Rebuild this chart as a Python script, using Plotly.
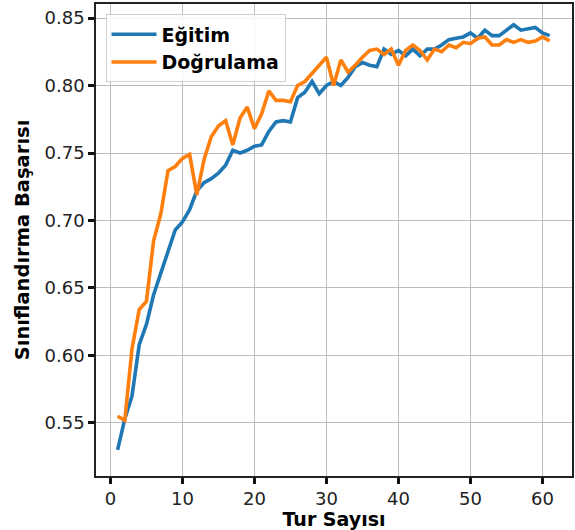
import plotly.graph_objects as go

epochs = list(range(1, 62))

egitim = [0.530, 0.553, 0.570, 0.608, 0.623, 0.645, 0.661, 0.678, 0.693, 0.699,
          0.708, 0.722, 0.728, 0.731, 0.735, 0.741, 0.752, 0.750, 0.752, 0.755,
          0.756, 0.766, 0.773, 0.774, 0.773, 0.791, 0.795, 0.803, 0.794, 0.800,
          0.803, 0.800, 0.806, 0.814, 0.817, 0.815, 0.814, 0.827, 0.823, 0.826,
          0.822, 0.827, 0.822, 0.827, 0.827, 0.830, 0.834, 0.835, 0.836, 0.839,
          0.835, 0.841, 0.837, 0.837, 0.841, 0.845, 0.841, 0.842, 0.843, 0.839,
          0.837]

dogrulama = [0.555, 0.552, 0.605, 0.634, 0.640, 0.685, 0.705, 0.737, 0.740, 0.746,
             0.749, 0.719, 0.745, 0.762, 0.770, 0.774, 0.756, 0.776, 0.784, 0.768,
             0.779, 0.796, 0.789, 0.789, 0.788, 0.800, 0.803, 0.809, 0.815, 0.821,
             0.800, 0.819, 0.810, 0.815, 0.821, 0.826, 0.827, 0.823, 0.827, 0.815,
             0.826, 0.830, 0.826, 0.819, 0.827, 0.825, 0.830, 0.828, 0.832, 0.831,
             0.835, 0.836, 0.830, 0.830, 0.834, 0.832, 0.834, 0.832, 0.833, 0.836,
             0.833]

x_ticks = [0, 10, 20, 30, 40, 50, 60]
y_ticks = [0.55, 0.60, 0.65, 0.70, 0.75, 0.80, 0.85]

font_family = "DejaVu Sans"

fig = go.Figure()
fig.add_trace(go.Scatter(x=epochs, y=egitim, mode="lines", name="<b>Eğitim</b>",
                         line=dict(color="#1f77b4", width=3.6)))
fig.add_trace(go.Scatter(x=epochs, y=dogrulama, mode="lines", name="<b>Doğrulama</b>",
                         line=dict(color="#ff7f0e", width=3.6)))

axis_common = dict(
    showline=True, linecolor="#222222", linewidth=1.5, mirror=True,
    showgrid=True, gridcolor="#bdbdbd", gridwidth=1,
    ticks="outside", ticklen=6, tickwidth=2.5, tickcolor="#111111",
    tickfont=dict(family=font_family, size=18, color="#222222"),
    zeroline=False,
)

fig.update_layout(
    width=575, height=530,
    margin=dict(l=96, r=1, t=4, b=54),
    paper_bgcolor="white", plot_bgcolor="white",
    font=dict(family=font_family, color="black"),
    xaxis=dict(range=[-2, 64.1], tickvals=x_ticks,
               title=dict(text="<b>Tur Sayısı</b>", font=dict(family=font_family, size=19), standoff=5),
               **axis_common),
    yaxis=dict(range=[0.5107, 0.8604], tickvals=y_ticks, tickformat=".2f",
               title=dict(text="<b>Sınıflandırma Başarısı</b>", font=dict(family=font_family, size=19.5), standoff=10),
               **axis_common),
    legend=dict(x=0.02, y=0.978, xanchor="left", yanchor="top",
                bgcolor="rgba(255,255,255,0.85)", bordercolor="#d0d0d0", borderwidth=1,
                font=dict(family=font_family, size=19, color="black"),
                itemwidth=45, tracegroupgap=4),
    showlegend=True,
)

fig.write_html("out.html")
